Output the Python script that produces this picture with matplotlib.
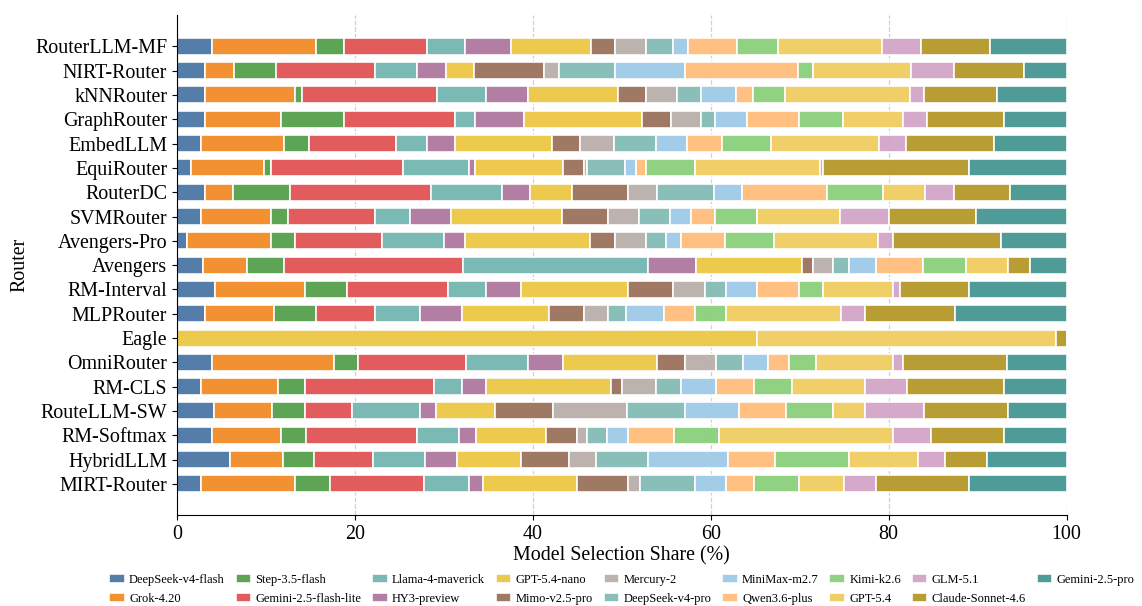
import numpy as np
import matplotlib
matplotlib.use("Agg")
import matplotlib.pyplot as plt

plt.rcParams["font.family"] = ["Liberation Serif", "DejaVu Serif"]

routers = [
    "RouterLLM-MF", "NIRT-Router", "kNNRouter", "GraphRouter", "EmbedLLM",
    "EquiRouter", "RouterDC", "SVMRouter", "Avengers-Pro", "Avengers",
    "RM-Interval", "MLPRouter", "Eagle", "OmniRouter", "RM-CLS",
    "RouteLLM-SW", "RM-Softmax", "HybridLLM", "MIRT-Router",
]

models = [
    "DeepSeek-v4-flash", "Grok-4.20", "Step-3.5-flash", "Gemini-2.5-flash-lite",
    "Llama-4-maverick", "HY3-preview", "GPT-5.4-nano", "Mimo-v2.5-pro",
    "Mercury-2", "DeepSeek-v4-pro", "MiniMax-m2.7", "Qwen3.6-plus",
    "Kimi-k2.6", "GPT-5.4", "GLM-5.1", "Claude-Sonnet-4.6", "Gemini-2.5-pro",
]

colors = [
    "#4e79a7", "#f28e2b", "#59a14f", "#e15759", "#76b7b2", "#b07aa1",
    "#edc948", "#9c755f", "#bab0ac", "#86bcb6", "#a0cbe8", "#ffbe7d",
    "#8cd17d", "#f1ce63", "#d4a6c8", "#b6992d", "#499894",
]

# selection share (%) per router, one value per model in the order above
share = {
    "RouterLLM-MF": [3.9, 11.7, 3.15, 9.35, 4.3, 5.1, 9.0, 2.7, 3.5, 3.1, 1.6, 5.5, 4.6, 11.8, 4.3, 7.8, 8.6],
    "NIRT-Router":  [3.2, 3.15, 4.8, 11.05, 4.8, 3.2, 3.15, 7.95, 1.6, 6.3, 7.95, 12.7, 1.6, 11.1, 4.8, 7.9, 4.75],
    "kNNRouter":    [3.15, 10.1, 0.8, 15.2, 5.5, 4.7, 10.15, 3.1, 3.5, 2.7, 3.95, 1.95, 3.5, 14.05, 1.6, 8.2, 7.85],
    "GraphRouter":  [3.15, 8.55, 7.05, 12.5, 2.3, 5.5, 13.3, 3.15, 3.45, 1.6, 3.5, 5.85, 5.05, 6.7, 2.75, 8.6, 7.05],
    "EmbedLLM":     [2.7, 9.35, 2.8, 9.75, 3.5, 3.15, 10.9, 3.1, 3.9, 4.7, 3.5, 3.9, 5.5, 12.1, 3.1, 9.8, 8.2],
    "EquiRouter":   [1.6, 8.2, 0.8, 14.75, 7.45, 0.75, 9.8, 2.35, 0.4, 4.3, 1.15, 1.2, 5.45, 14.05, 0.4, 16.4, 10.95],
    "RouterDC":     [3.15, 3.2, 6.4, 15.85, 7.95, 3.2, 4.7, 6.3, 3.25, 6.35, 3.2, 9.5, 6.35, 4.75, 3.2, 6.3, 6.4],
    "SVMRouter":    [2.7, 7.85, 1.95, 9.75, 3.9, 4.65, 12.5, 5.2, 3.45, 3.5, 2.35, 2.75, 4.7, 9.35, 5.5, 9.75, 10.2],
    "Avengers-Pro": [1.15, 9.4, 2.75, 9.75, 7.0, 2.35, 14.05, 2.75, 3.5, 2.3, 1.6, 5.05, 5.5, 11.7, 1.6, 12.15, 7.4],
    "Avengers":     [2.95, 4.9, 4.15, 20.15, 20.8, 5.35, 11.9, 1.2, 2.35, 1.8, 2.95, 5.35, 4.75, 4.75, 0.0, 2.45, 4.15],
    "RM-Interval":  [4.25, 10.15, 4.7, 11.35, 4.3, 3.95, 12.05, 5.05, 3.6, 2.3, 3.55, 4.65, 2.75, 7.85, 0.8, 7.8, 10.95],
    "MLPRouter":    [3.15, 7.8, 4.7, 6.65, 5.05, 4.75, 9.7, 3.95, 2.7, 2.0, 4.3, 3.5, 3.5, 12.9, 2.75, 10.15, 12.5],
    "Eagle":        [0, 0, 0, 0, 0, 0, 65.2, 0, 0, 0, 0, 0, 0, 33.6, 0, 1.2, 0],
    "OmniRouter":   [3.9, 13.7, 2.75, 12.1, 7.0, 3.9, 10.55, 3.15, 3.5, 3.1, 2.75, 2.35, 3.1, 8.6, 1.15, 11.75, 6.65],
    "RM-CLS":       [2.7, 8.65, 3.1, 14.5, 3.15, 2.7, 14.05, 1.15, 3.9, 2.75, 3.95, 4.3, 4.25, 8.2, 4.7, 10.95, 7.05],
    "RouteLLM-SW":  [4.15, 6.55, 3.65, 5.3, 7.7, 1.8, 6.55, 6.55, 8.3, 6.5, 6.05, 5.3, 5.35, 3.6, 6.55, 9.5, 6.55],
    "RM-Softmax":   [3.9, 7.8, 2.75, 12.55, 4.7, 1.9, 7.85, 3.45, 1.15, 2.3, 2.35, 5.1, 5.1, 19.5, 4.3, 8.2, 7.05],
    "HybridLLM":    [5.95, 5.95, 3.5, 6.6, 5.9, 3.55, 7.2, 5.35, 3.0, 5.9, 8.95, 5.35, 8.3, 7.7, 3.0, 4.8, 8.9],
    "MIRT-Router":  [2.7, 10.6, 3.9, 10.55, 5.05, 1.6, 10.55, 5.8, 1.25, 6.2, 3.5, 3.15, 5.05, 5.05, 3.6, 10.5, 10.95],
}

data = np.array([share[r] for r in routers])
data = data / data.sum(axis=1, keepdims=True) * 100

fig, ax = plt.subplots(figsize=(11.42, 6.06), dpi=100)
y = np.arange(len(routers))
left = np.zeros(len(routers))
for j, m in enumerate(models):
    ax.barh(y, data[:, j], left=left, height=0.7, color=colors[j],
            edgecolor="white", linewidth=1.2, alpha=0.97, label=m, zorder=2)
    left += data[:, j]

fs = 14.4
ax.set_yticks(y)
ax.set_yticklabels(routers, fontsize=fs)
ax.invert_yaxis()
ax.set_xlim(0, 100)
ax.set_xticks([0, 20, 40, 60, 80, 100])
ax.tick_params(axis="x", labelsize=fs)
ax.set_xlabel("Model Selection Share (%)", fontsize=fs, labelpad=2)
ax.set_ylabel("Router", fontsize=fs)

ax.grid(axis="x", linestyle="--", color="#d0d0d0", linewidth=0.9, zorder=0)
ax.set_axisbelow(True)
ax.spines["top"].set_visible(False)
ax.spines["right"].set_visible(False)

ax.legend(loc="upper center", bbox_to_anchor=(0.5, -0.095), ncol=9,
          frameon=False, fontsize=9.0, handlelength=1.25, handleheight=0.7,
          columnspacing=0.85, handletextpad=0.35, labelspacing=0.55)

fig.subplots_adjust(left=0.155, right=0.934, top=0.975, bottom=0.15)
fig.savefig("out.png", dpi=100)
